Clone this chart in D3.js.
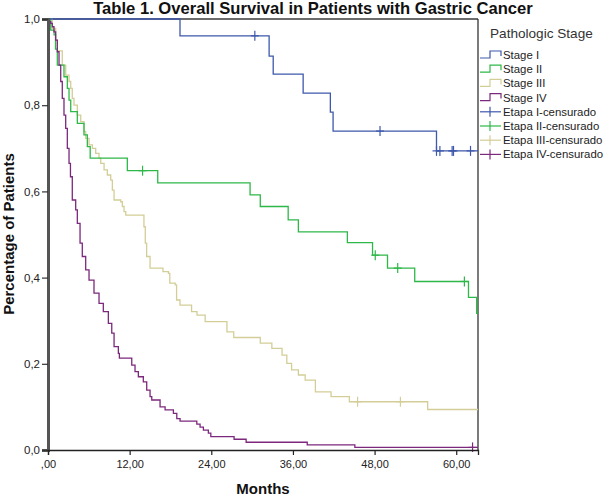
<!DOCTYPE html>
<html>
<head>
<meta charset="utf-8">
<script src="https://cdn.jsdelivr.net/npm/d3@7/dist/d3.min.js"></script>
<style>
  html, body { margin: 0; padding: 0; background: #fff; }
  svg { display: block; font-family: Arial, "Liberation Sans", sans-serif; }
</style>
</head>
<body>
<svg id="chart" width="604" height="496"></svg>
<script>
// ---------- DATA ----------
const title = "Table 1. Overall Survival in Patients with Gastric Cancer";
const xLabel = "Months";
const yLabel = "Percentage of Patients";
const legendTitle = "Pathologic Stage";
const stageNames = ["Stage I", "Stage II", "Stage III", "Stage IV"];
const censorNames = ["Etapa I-censurado", "Etapa II-censurado", "Etapa III-censurado", "Etapa IV-censurado"];
const stageColors = ["#3E58AC", "#2EB848", "#D3CE97", "#7C287D"];
const xTicks = [0, 12, 24, 36, 48, 60];
const yTicks = [0, 0.2, 0.4, 0.6, 0.8, 1.0];
const xMax = 63.2;

// event times (months) and survival after each event
const stageI_t = [19.4, 32.5, 33.1, 37.5, 41.5, 41.9, 57.1];
const stageI_s = [0.961, 0.914, 0.872, 0.828, 0.784, 0.740, 0.694];
const stageI_c = [30.4, 48.8, 57.1, 57.6, 59.4, 59.6, 62.1];

const stageII_t = [0.4, 0.9, 1.1, 1.37, 2.35, 2.84, 3.09, 3.34, 4.31, 5.29, 5.78, 6.2, 11.66, 16.13, 29.7, 31.2, 35.3, 36.8, 44.0, 47.7, 49.9, 53.9, 61.8, 63.0];
const stageII_s = [0.974, 0.963, 0.93, 0.893, 0.866, 0.839, 0.812, 0.785, 0.758, 0.731, 0.704, 0.677, 0.648, 0.620, 0.592, 0.565, 0.534, 0.506, 0.481, 0.452, 0.422, 0.391, 0.354, 0.317];
const stageII_c = [13.9, 48.1, 51.4, 61.2];

const stageIII_t = [0.63, 1.13, 1.37, 2.1, 2.6, 3.09, 3.34, 3.57, 3.82, 4.31, 4.81, 5.29, 5.54, 6.03, 6.52, 7.01, 7.5, 7.75, 8.24, 8.72, 9.22, 9.46, 9.71, 10.69, 10.93, 11.18, 11.43, 14.1, 14.3, 14.5, 15.0, 16.9, 17.7, 17.9, 18.7, 18.9, 19.4, 21.1, 21.9, 23.1, 26.3, 27.3, 31.2, 32.9, 34.4, 35.1, 35.8, 36.8, 37.8, 39.3, 41.6, 44.3, 55.8];
const stageIII_s = [0.978, 0.951, 0.926, 0.893, 0.87, 0.855, 0.839, 0.816, 0.800, 0.777, 0.762, 0.739, 0.723, 0.708, 0.70, 0.688, 0.677, 0.665, 0.650, 0.638, 0.626, 0.603, 0.58, 0.576, 0.565, 0.553, 0.545, 0.518, 0.48, 0.449, 0.422, 0.414, 0.41, 0.387, 0.383, 0.348, 0.336, 0.321, 0.313, 0.298, 0.274, 0.261, 0.248, 0.236, 0.22, 0.201, 0.186, 0.174, 0.162, 0.135, 0.124, 0.112, 0.094];
const stageIII_c = [45.5, 51.8];

const stageIV_t = [0.15, 0.4, 0.63, 0.88, 1.13, 1.37, 1.62, 1.87, 2.1, 2.35, 2.6, 2.84, 3.09, 3.3, 3.57, 4.07, 4.31, 4.71, 5.04, 5.54, 6.03, 6.76, 7.5, 8.13, 8.87, 9.37, 9.71, 10.34, 10.49, 12.31, 12.79, 13.28, 14.01, 14.51, 15.0, 15.25, 16.47, 17.21, 18.43, 18.93, 19.41, 21.87, 22.35, 22.84, 23.57, 23.93, 27.35, 29.12, 38.1, 45.1];
const stageIV_s = [0.994, 0.99, 0.982, 0.97, 0.951, 0.924, 0.893, 0.855, 0.816, 0.777, 0.746, 0.70, 0.665, 0.634, 0.58, 0.557, 0.526, 0.48, 0.449, 0.418, 0.394, 0.364, 0.340, 0.321, 0.294, 0.271, 0.240, 0.224, 0.213, 0.197, 0.182, 0.170, 0.158, 0.139, 0.124, 0.116, 0.100, 0.093, 0.085, 0.073, 0.067, 0.060, 0.053, 0.046, 0.039, 0.031, 0.025, 0.018, 0.012, 0.006];
const stageIV_c = [62.4];

const seriesT = [stageI_t, stageII_t, stageIII_t, stageIV_t];
const seriesS = [stageI_s, stageII_s, stageIII_s, stageIV_s];
const seriesC = [stageI_c, stageII_c, stageIII_c, stageIV_c];

// ---------- CHART ----------
const svg = d3.select("#chart");
const L = 48, R = 478, T = 19, B = 450;
const x = d3.scaleLinear().domain([0, xMax]).range([L, R]);
const y = d3.scaleLinear().domain([0, 1]).range([B, T]);

const commaNum = (v, d) => d3.format("." + d + "f")(v).replace(".", ",");

svg.append("defs").append("clipPath").attr("id", "clip")
  .append("rect").attr("x", L).attr("y", T - 2).attr("width", R - L).attr("height", B - T + 4);

// frame top / right
svg.append("line").attr("x1", L).attr("x2", R).attr("y1", T).attr("y2", T)
  .attr("stroke", "#6b6b6b").attr("stroke-width", 2);
svg.append("line").attr("x1", R).attr("x2", R).attr("y1", T).attr("y2", B)
  .attr("stroke", "#222").attr("stroke-width", 1.2);

// curves
const line = d3.line().x(d => x(d[0])).y(d => y(d[1])).curve(d3.curveStepAfter);
const survAt = (ts, ss, t) => {
  let s = 1;
  for (let i = 0; i < ts.length; i++) if (ts[i] <= t) s = ss[i];
  return s;
};
const plot = svg.append("g").attr("clip-path", "url(#clip)");
const order = [2, 1, 3, 0];
order.forEach(k => {
  const ts = seriesT[k], ss = seriesS[k];
  const pts = [[0, 1]].concat(ts.map((t, i) => [t, ss[i]]));
  pts.push([xMax, ss[ss.length - 1]]);
  plot.append("path").datum(pts).attr("d", line)
    .attr("fill", "none").attr("stroke", stageColors[k]).attr("stroke-width", 1.3);
  seriesC[k].forEach(c => {
    const cx = x(c), cy = y(survAt(ts, ss, c));
    plot.append("line").attr("x1", cx).attr("x2", cx).attr("y1", cy - 5).attr("y2", cy + 5)
      .attr("stroke", stageColors[k]).attr("stroke-width", 1.2);
    plot.append("line").attr("x1", cx - 4).attr("x2", cx + 4).attr("y1", cy).attr("y2", cy)
      .attr("stroke", stageColors[k]).attr("stroke-width", 1.2);
  });
});

// axes
const yAxis = svg.append("g").attr("transform", `translate(${L},0)`)
  .call(d3.axisLeft(y).tickValues(yTicks).tickFormat(v => commaNum(v, 1)).tickSize(6).tickPadding(2));
yAxis.select(".domain").attr("stroke", "#555").attr("stroke-width", 3);
yAxis.selectAll(".tick line").attr("stroke", "#333").attr("stroke-width", 1.2);
yAxis.selectAll(".tick text").attr("font-size", 11.5).attr("fill", "#222")
  .attr("font-family", "Arial, 'Liberation Sans', sans-serif");

const xAxis = svg.append("g").attr("transform", `translate(0,${B})`)
  .call(d3.axisBottom(x).tickValues(xTicks).tickFormat(v => v === 0 ? ",00" : commaNum(v, 2)).tickSize(5).tickPadding(5));
xAxis.select(".domain").attr("stroke", "#222").attr("stroke-width", 1.3);
xAxis.selectAll(".tick line").attr("stroke", "#222").attr("stroke-width", 1.2);
xAxis.selectAll(".tick text").attr("font-size", 11).attr("fill", "#222")
  .attr("font-family", "Arial, 'Liberation Sans', sans-serif");

// titles
svg.append("text").attr("x", 313).attr("y", 14).attr("text-anchor", "middle")
  .attr("font-size", 16.6).attr("font-weight", "bold").attr("fill", "#111").text(title);
svg.append("text").attr("x", 263).attr("y", 494).attr("text-anchor", "middle")
  .attr("font-size", 15).attr("font-weight", "bold").attr("fill", "#111").text(xLabel);
svg.append("text").attr("transform", `translate(13.5,234) rotate(-90)`)
  .attr("text-anchor", "middle").attr("font-size", 15).attr("font-weight", "bold").attr("fill", "#111").text(yLabel);

// legend
const lg = svg.append("g");
lg.append("text").attr("x", 490).attr("y", 37.5).attr("font-size", 13.6).attr("fill", "#333").text(legendTitle);
const rowY = i => 55 + i * 14.2;
stageNames.forEach((n, i) => {
  const c = rowY(i);
  lg.append("path").attr("d", `M480,${c + 3}H490V${c - 4}H501V${c + 1}`)
    .attr("fill", "none").attr("stroke", stageColors[i]).attr("stroke-width", 1.2);
  lg.append("text").attr("x", 503).attr("y", c + 4).attr("font-size", 11.4).attr("fill", "#222").text(n);
});
censorNames.forEach((n, i) => {
  const c = rowY(i + 4);
  lg.append("line").attr("x1", 480).attr("x2", 501).attr("y1", c).attr("y2", c)
    .attr("stroke", stageColors[i]).attr("stroke-width", 1.2);
  lg.append("line").attr("x1", 490).attr("x2", 490).attr("y1", c - 5).attr("y2", c + 5)
    .attr("stroke", stageColors[i]).attr("stroke-width", 1.2);
  lg.append("text").attr("x", 503).attr("y", c + 4).attr("font-size", 11.4).attr("fill", "#222").text(n);
});
</script>
</body>
</html>
